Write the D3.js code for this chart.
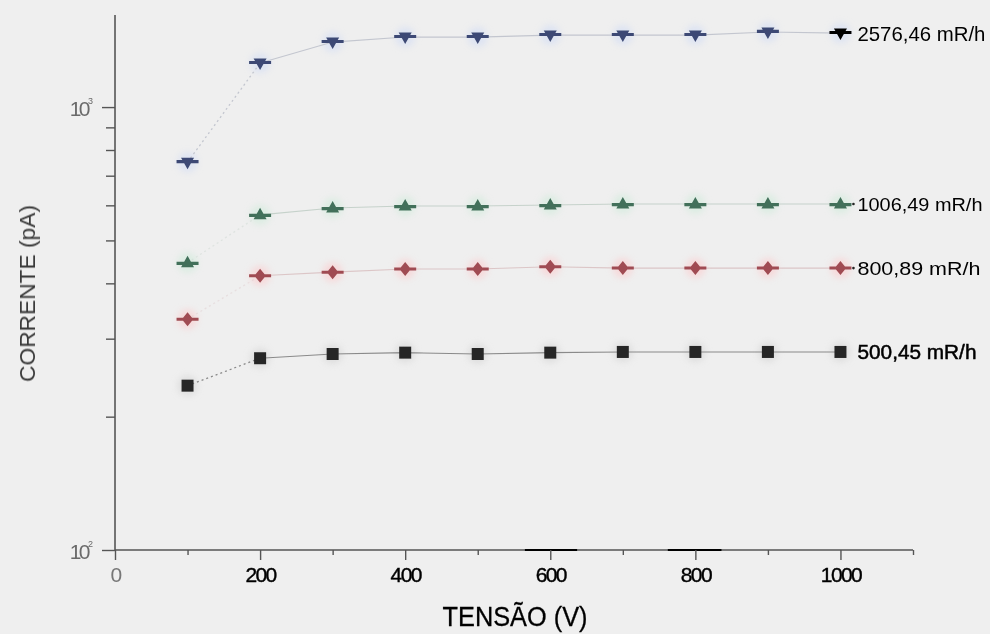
<!DOCTYPE html>
<html>
<head>
<meta charset="utf-8">
<script src="https://cdn.jsdelivr.net/npm/d3@7"></script>
<style>
  html, body { margin: 0; padding: 0; background: #efefef; }
  svg { display: block; }
  text { font-family: "Liberation Sans", Arial, sans-serif; }
</style>
</head>
<body>
<script>
// ---------- data ----------
const voltages = [100, 200, 300, 400, 500, 600, 700, 800, 900, 1000];
const current2576 = [751, 1257, 1402, 1439, 1439, 1454, 1454, 1454, 1477, 1469];
const current1006 = [445, 571, 592, 598, 598, 601, 604, 604, 604, 604];
const current800  = [332, 416, 424, 431, 431, 436, 433, 433, 433, 433];
const current500  = [235, 271, 277, 279, 277, 279, 280, 280, 280, 280];
const seriesLabels = ["2576,46 mR/h", "1006,49 mR/h", "800,89 mR/h", "500,45 mR/h"];
const xMajorTicks = [0, 200, 400, 600, 800, 1000];
const xMinorTicks = [100, 300, 500, 700, 900, 1100];
const yMajorTicks = [100, 1000];
const yMinorTicks = [200, 300, 400, 500, 600, 700, 800, 900];
const yTickExponents = ["2", "3"];
const xTitle = "TENSÃO (V)";
const yTitle = "CORRENTE (pA)";

// ---------- styling ----------
const W = 990, H = 634;
const series = [
  { values: current2576, label: seriesLabels[0], symbol: "down", fill: "#3d4a74", halo: "#dde3f2", line: "#c3c6cf", font: 21, len: 128, lastFill: "#000" },
  { values: current1006, label: seriesLabels[1], symbol: "up", fill: "#42705a", halo: "#dcece2", line: "#c6d2cb", font: 18, len: 125, dot: true },
  { values: current800,  label: seriesLabels[2], symbol: "star", fill: "#a04c52", halo: "#f6d9da", line: "#dcc6c7", font: 19, len: 123, dot: true },
  { values: current500,  label: seriesLabels[3], symbol: "square", fill: "#262626", halo: "#dedede", line: "#8a8a8a", font: 20, len: 119, bold: true }
];

const svg = d3.select("body").append("svg").attr("width", W).attr("height", H);
svg.append("rect").attr("width", W).attr("height", H).attr("fill", "#efefef");

const defs = svg.append("defs");
defs.append("filter").attr("id", "soft").append("feGaussianBlur").attr("stdDeviation", 0.6);
defs.append("filter").attr("id", "halo").append("feGaussianBlur").attr("stdDeviation", 3);

const x = d3.scaleLinear().domain([0, 1100]).range([115, 913]);
const y = d3.scaleLog().domain([100, 1614]).range([550, 15]);

// ---------- axes ----------
const axisG = svg.append("g").attr("filter", "url(#soft)");
axisG.append("line").attr("x1", x(0)).attr("x2", x(1100)).attr("y1", y(100)).attr("y2", y(100))
  .attr("stroke", "#555").attr("stroke-width", 1.6);
axisG.append("line").attr("x1", x(0)).attr("x2", x(0)).attr("y1", y(100)).attr("y2", y(1614))
  .attr("stroke", "#555").attr("stroke-width", 1.6);
// darker segments on the x axis as in the scan
[[565, 637], [762, 836]].forEach(s => {
  axisG.append("line").attr("x1", x(s[0])).attr("x2", x(s[1])).attr("y1", y(100)).attr("y2", y(100))
    .attr("stroke", "#000").attr("stroke-width", 1.8);
});

const xAxisMinor = d3.axisBottom(x).tickValues(xMinorTicks).tickSize(5).tickFormat("");
const xAxisMajor = d3.axisBottom(x).tickValues(xMajorTicks).tickSize(10).tickPadding(6).tickFormat(d3.format("d"));
const gxm = axisG.append("g").attr("transform", `translate(0,${y(100)})`).call(xAxisMinor);
const gx = axisG.append("g").attr("transform", `translate(0,${y(100)})`).call(xAxisMajor);
[gxm, gx].forEach(g => { g.select(".domain").remove(); g.selectAll("line").attr("stroke", "#555").attr("stroke-width", 1.4); });
gx.selectAll("text")
  .attr("font-size", 21).attr("letter-spacing", -1.6)
  .attr("fill", d => d === 0 ? "#777" : "#000")
  .attr("stroke", d => d === 0 ? "none" : "#000").attr("stroke-width", 0.4)
  .attr("dy", null).attr("y", 32);

const yAxisMinor = d3.axisLeft(y).tickValues(yMinorTicks).tickSize(9).tickFormat("");
const yAxisMajor = d3.axisLeft(y).tickValues(yMajorTicks).tickSize(13).tickFormat("");
const gym = axisG.append("g").attr("transform", `translate(${x(0)},0)`).call(yAxisMinor);
const gy = axisG.append("g").attr("transform", `translate(${x(0)},0)`).call(yAxisMajor);
[gym, gy].forEach(g => { g.select(".domain").remove(); g.selectAll("line").attr("stroke", "#555").attr("stroke-width", 1.4); });

yMajorTicks.forEach((v, i) => {
  axisG.append("text").attr("x", x(0) - 27).attr("y", y(v) + 9)
    .attr("text-anchor", "end").attr("fill", "#6a6a6a").attr("font-size", 21).attr("letter-spacing", -2.5).text("10");
  axisG.append("text").attr("x", x(0) - 27).attr("y", y(v) - 3)
    .attr("fill", "#6a6a6a").attr("font-size", 9).text(yTickExponents[i]);
});

// axis titles
axisG.append("text").attr("x", 515).attr("y", 626).attr("text-anchor", "middle")
  .attr("font-size", 27).attr("textLength", 145).attr("lengthAdjust", "spacingAndGlyphs")
  .attr("fill", "#000").attr("stroke", "#000").attr("stroke-width", 0.3).text(xTitle);
axisG.append("text").attr("transform", `translate(35,${(y(100) + y(1614)) / 2 + 11}) rotate(-90)`)
  .attr("text-anchor", "middle").attr("font-size", 22).attr("textLength", 177).attr("lengthAdjust", "spacingAndGlyphs")
  .attr("fill", "#3a3a3a").text(yTitle);

// ---------- markers ----------
function markerPath(kind) {
  const p = d3.path();
  if (kind === "down") {
    p.rect(-11, -2.2, 22, 3.2);
    p.moveTo(-6.5, -4.5); p.lineTo(6.5, -4.5); p.lineTo(0, 7); p.closePath();
  } else if (kind === "up") {
    p.rect(-11, -1, 22, 3.2);
    p.moveTo(-6.5, 4.5); p.lineTo(0, -7); p.lineTo(6.5, 4.5); p.closePath();
  } else if (kind === "star") {
    p.moveTo(-11, -1.5); p.lineTo(-4.5, -1.5); p.lineTo(0, -7); p.lineTo(4.5, -1.5); p.lineTo(11, -1.5);
    p.lineTo(11, 1.5); p.lineTo(4.5, 1.5); p.lineTo(0, 7); p.lineTo(-4.5, 1.5); p.lineTo(-11, 1.5); p.closePath();
  } else {
    p.rect(-6, -6, 12, 12);
  }
  return p.toString();
}

const plot = svg.append("g");
series.forEach(s => {
  const pts = voltages.map((v, i) => [x(v), y(s.values[i])]);
  const g = plot.append("g");
  // halos
  g.append("g").attr("filter", "url(#halo)").selectAll("circle").data(pts).enter().append("circle")
    .attr("cx", d => d[0]).attr("cy", d => d[1]).attr("r", 10).attr("fill", s.halo);
  // first segment dotted
  g.append("path").attr("d", d3.line()(pts.slice(0, 2)))
    .attr("fill", "none").attr("stroke", s.line).attr("stroke-width", 1.3)
    .attr("stroke-dasharray", "2,3").attr("opacity", s.symbol === "down" || s.symbol === "square" ? 1 : 0.4);
  // remaining solid
  g.append("path").attr("d", d3.line()(pts.slice(1)))
    .attr("fill", "none").attr("stroke", s.line).attr("stroke-width", 1.1);
  const last = pts[pts.length - 1];
  // markers
  g.append("g").attr("filter", "url(#soft)").selectAll("path").data(pts).enter().append("path")
    .attr("transform", d => `translate(${d[0]},${d[1]})`)
    .attr("d", markerPath(s.symbol))
    .attr("fill", (d, i) => (i === pts.length - 1 && s.lastFill) ? s.lastFill : s.fill);
  if (s.dot) {
    g.append("circle").attr("cx", last[0] + 13).attr("cy", last[1]).attr("r", 1.3).attr("fill", "#222");
  }
  // label
  g.append("text").attr("x", last[0] + 17).attr("y", last[1]).attr("dy", "0.36em")
    .attr("font-size", s.font).attr("textLength", s.len).attr("lengthAdjust", "spacingAndGlyphs")
    .attr("fill", "#000").attr("stroke", s.bold ? "#000" : "none").attr("stroke-width", s.bold ? 0.5 : 0)
    .text(s.label);
});
</script>
</body>
</html>
